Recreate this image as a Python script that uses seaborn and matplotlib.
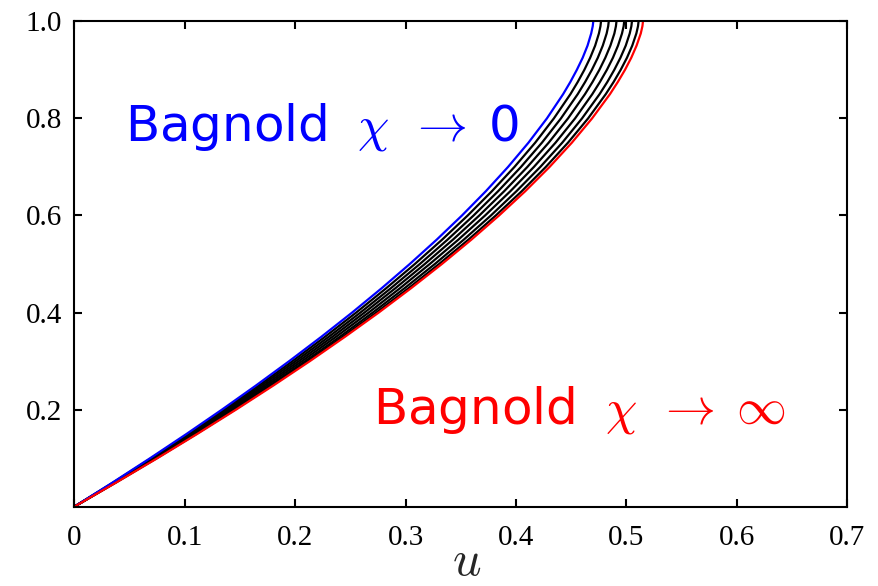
import matplotlib
matplotlib.use("Agg")
import matplotlib.pyplot as plt
import pandas as pd
import seaborn as sns

# height across the layer (vertical axis); denser near the free surface
depth = [0.00, 0.05, 0.10, 0.15, 0.20, 0.25, 0.30, 0.35, 0.40, 0.45, 0.50,
         0.55, 0.60, 0.65, 0.70, 0.75, 0.80, 0.85, 0.875, 0.90, 0.925, 0.95,
         0.975, 0.99, 1.00]

# velocity profiles u(depth)
u_bagnold_zero = [0.0, 0.0348, 0.0687, 0.1017, 0.1337, 0.1647, 0.1947, 0.2237, 0.2516, 0.2783, 0.3038,
                  0.3281, 0.3511, 0.3727, 0.3928, 0.4113, 0.4280, 0.4427, 0.4492, 0.4551, 0.4604, 0.4648,
                  0.4681, 0.4695, 0.4700]
u_chi_1 = [0.0, 0.0353, 0.0697, 0.1032, 0.1357, 0.1672, 0.1976, 0.2270, 0.2553, 0.2824, 0.3084,
           0.3330, 0.3563, 0.3782, 0.3986, 0.4174, 0.4343, 0.4493, 0.4559, 0.4619, 0.4672, 0.4717,
           0.4751, 0.4765, 0.4770]
u_chi_2 = [0.0, 0.0359, 0.0708, 0.1047, 0.1377, 0.1696, 0.2005, 0.2304, 0.2591, 0.2866, 0.3129,
           0.3379, 0.3616, 0.3838, 0.4045, 0.4235, 0.4407, 0.4559, 0.4626, 0.4687, 0.4741, 0.4786,
           0.4821, 0.4835, 0.4840]
u_chi_3 = [0.0, 0.0364, 0.0718, 0.1062, 0.1397, 0.1721, 0.2034, 0.2337, 0.2628, 0.2907, 0.3174,
           0.3428, 0.3668, 0.3893, 0.4103, 0.4296, 0.4471, 0.4625, 0.4693, 0.4755, 0.4809, 0.4855,
           0.4891, 0.4905, 0.4910]
u_chi_4 = [0.0, 0.0369, 0.0728, 0.1077, 0.1417, 0.1745, 0.2063, 0.2370, 0.2666, 0.2949, 0.3219,
           0.3477, 0.3720, 0.3949, 0.4162, 0.4358, 0.4535, 0.4691, 0.4760, 0.4823, 0.4878, 0.4924,
           0.4960, 0.4975, 0.4980]
u_chi_5 = [0.0, 0.0374, 0.0738, 0.1093, 0.1437, 0.1770, 0.2092, 0.2404, 0.2703, 0.2990, 0.3265,
           0.3526, 0.3773, 0.4004, 0.4220, 0.4419, 0.4598, 0.4757, 0.4827, 0.4890, 0.4946, 0.4994,
           0.5030, 0.5045, 0.5050]
u_chi_6 = [0.0, 0.0378, 0.0747, 0.1106, 0.1454, 0.1791, 0.2117, 0.2432, 0.2735, 0.3026, 0.3303,
           0.3568, 0.3817, 0.4052, 0.4270, 0.4471, 0.4653, 0.4813, 0.4884, 0.4948, 0.5005, 0.5053,
           0.5090, 0.5105, 0.5110]
u_bagnold_inf = [0.0, 0.0381, 0.0753, 0.1114, 0.1465, 0.1805, 0.2134, 0.2451, 0.2757, 0.3049, 0.3329,
                 0.3595, 0.3847, 0.4084, 0.4304, 0.4506, 0.4689, 0.4851, 0.4922, 0.4987, 0.5044, 0.5092,
                 0.5130, 0.5145, 0.5150]

profiles = {
    "chi1": u_chi_1, "chi2": u_chi_2, "chi3": u_chi_3,
    "chi4": u_chi_4, "chi5": u_chi_5, "chi6": u_chi_6,
    "zero": u_bagnold_zero, "inf": u_bagnold_inf,
}
colors = {k: "black" for k in profiles}
colors["zero"] = "#0000ff"
colors["inf"] = "#ff0000"

frames = [pd.DataFrame({"u": vals, "y": depth, "curve": name}) for name, vals in profiles.items()]
df = pd.concat(frames, ignore_index=True)

sns.set_style("ticks")
plt.rcParams.update({
    "font.family": ["Liberation Serif", "DejaVu Serif"],
    "mathtext.fontset": "cm",
    "axes.linewidth": 1.5,
    "xtick.direction": "in",
    "ytick.direction": "in",
    "xtick.major.size": 6,
    "ytick.major.size": 6,
    "xtick.major.width": 1.5,
    "ytick.major.width": 1.5,
    "xtick.top": True,
    "ytick.right": True,
})

fig = plt.figure(figsize=(8.79, 5.86), dpi=100)
ax = fig.add_axes([0.0845, 0.1353, 0.8794, 0.8283])

sns.lineplot(data=df, x="u", y="y", hue="curve", hue_order=list(profiles.keys()),
             palette=colors, sort=False, estimator=None, legend=False,
             linewidth=1.6, ax=ax)

ax.set_xlim(0, 0.7)
ax.set_ylim(0, 1.0)
ax.set_xticks([0, 0.1, 0.2, 0.3, 0.4, 0.5, 0.6, 0.7])
ax.set_xticklabels(["0", "0.1", "0.2", "0.3", "0.4", "0.5", "0.6", "0.7"])
ax.set_yticks([0.2, 0.4, 0.6, 0.8, 1.0])
ax.set_yticklabels(["0.2", "0.4", "0.6", "0.8", "1.0"])
ax.tick_params(axis="both", labelsize=21, colors="black")
ax.tick_params(axis="x", pad=13)
ax.tick_params(axis="y", pad=9)
ax.tick_params(top=True, right=True, labeltop=False, labelright=False)
for side in ["top", "right", "bottom", "left"]:
    ax.spines[side].set_visible(True)
    ax.spines[side].set_color("black")

ax.set_xlabel("$u$", fontsize=36, labelpad=-8)
ax.xaxis.label.set_x(0.508)
ax.set_ylabel("")

ax.text(0.0459, 0.7555, r"Bagnold $\;\chi\;\,\rightarrow\;$0", color="#0000ff",
        fontsize=36, family="DejaVu Sans", ha="left", va="baseline")
ax.text(0.2706, 0.1718, r"Bagnold $\;\chi\;\,\rightarrow\;\infty$", color="#ff0000",
        fontsize=36, family="DejaVu Sans", ha="left", va="baseline")

fig.savefig("out.png", dpi=100)
